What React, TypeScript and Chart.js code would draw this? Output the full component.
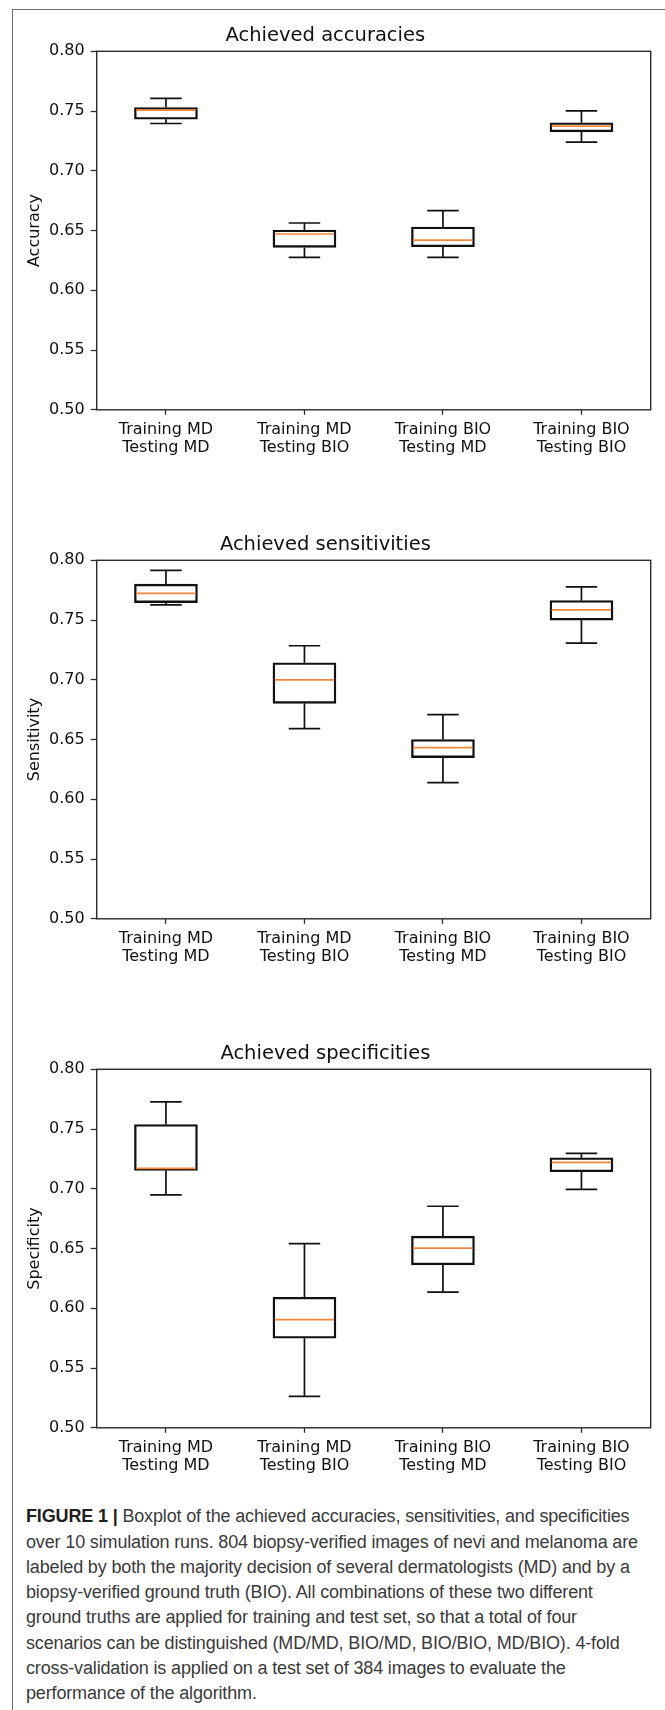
import React, { useEffect, useRef } from "react";
import { Chart, registerables } from "chart.js";

Chart.register(...registerables);

// ---------------- data ----------------
const categories = [
  ["Training MD", "Testing MD"],
  ["Training MD", "Testing BIO"],
  ["Training BIO", "Testing MD"],
  ["Training BIO", "Testing BIO"],
];
const yTickValues = [0.5, 0.55, 0.6, 0.65, 0.7, 0.75, 0.8];

const accuracyLow = [0.7396, 0.6275, 0.6275, 0.724];
const accuracyQ1 = [0.7432, 0.6359, 0.6365, 0.7326];
const accuracyMedian = [0.7508, 0.6471, 0.642, 0.7374];
const accuracyQ3 = [0.753, 0.6504, 0.653, 0.7402];
const accuracyHigh = [0.7606, 0.6563, 0.6667, 0.7502];

const sensitivityLow = [0.7627, 0.6591, 0.614, 0.7307];
const sensitivityQ1 = [0.7646, 0.6803, 0.6349, 0.75];
const sensitivityMedian = [0.7724, 0.7, 0.6433, 0.7585];
const sensitivityQ3 = [0.78, 0.7143, 0.65, 0.7663];
const sensitivityHigh = [0.7916, 0.7285, 0.6708, 0.7777];

const specificityLow = [0.6949, 0.5263, 0.6136, 0.6996];
const specificityQ1 = [0.7154, 0.575, 0.6364, 0.7143];
const specificityMedian = [0.7171, 0.5905, 0.6503, 0.7221];
const specificityQ3 = [0.7538, 0.6092, 0.6604, 0.726];
const specificityHigh = [0.7727, 0.6542, 0.6854, 0.7296];

const captionLines = [
  "Boxplot of the achieved accuracies, sensitivities, and specificities",
  "over 10 simulation runs. 804 biopsy-verified images of nevi and melanoma are",
  "labeled by both the majority decision of several dermatologists (MD) and by a",
  "biopsy-verified ground truth (BIO). All combinations of these two different",
  "ground truths are applied for training and test set, so that a total of four",
  "scenarios can be distinguished (MD/MD, BIO/MD, BIO/BIO, MD/BIO). 4-fold",
  "cross-validation is applied on a test set of 384 images to evaluate the",
  "performance of the algorithm.",
];

// ---------------- styles ----------------
const FONT = "'DejaVu Sans', sans-serif";
const TEXT = "#111111";
const SPINE = "#2b2b2b";
const BOX = "#111111";
const MEDIAN = "#f0883a";
const CANVAS_W = 665;
const CANVAS_H = 470;

type PanelProps = {
  top: number;
  title: string;
  yLabel: string;
  low: number[];
  q1: number[];
  median: number[];
  q3: number[];
  high: number[];
};

function BoxPanel({ top, title, yLabel, low, q1, median, q3, high }: PanelProps) {
  const ref = useRef<HTMLCanvasElement>(null);

  useEffect(() => {
    const canvas = ref.current;
    if (!canvas) return;

    const extras = {
      id: "boxExtras",
      afterDatasetsDraw(chart: any) {
        const { ctx } = chart;
        const x = chart.scales.x;
        const y = chart.scales.y;
        const meta = chart.getDatasetMeta(0);
        ctx.save();
        ctx.lineCap = "butt";
        for (let i = 0; i < categories.length; i++) {
          const bar = meta.data[i];
          const cx = x.getPixelForValue(i);
          const w = bar.width;
          const capHalf = w / 4;
          const yl = y.getPixelForValue(low[i]);
          const yh = y.getPixelForValue(high[i]);
          const y1 = y.getPixelForValue(q1[i]);
          const y3 = y.getPixelForValue(q3[i]);
          const ym = y.getPixelForValue(median[i]);
          ctx.strokeStyle = BOX;
          ctx.lineWidth = 1.7;
          ctx.beginPath();
          ctx.moveTo(cx, y1);
          ctx.lineTo(cx, yl);
          ctx.moveTo(cx, y3);
          ctx.lineTo(cx, yh);
          ctx.moveTo(cx - capHalf, yl);
          ctx.lineTo(cx + capHalf, yl);
          ctx.moveTo(cx - capHalf, yh);
          ctx.lineTo(cx + capHalf, yh);
          ctx.stroke();
          ctx.strokeStyle = MEDIAN;
          ctx.lineWidth = 1.7;
          ctx.beginPath();
          ctx.moveTo(cx - w / 2 + 1.7, ym);
          ctx.lineTo(cx + w / 2 - 1.7, ym);
          ctx.stroke();
        }
        ctx.restore();
      },
      afterDraw(chart: any) {
        const { ctx, chartArea } = chart;
        ctx.save();
        ctx.strokeStyle = SPINE;
        ctx.lineWidth = 1.4;
        ctx.strokeRect(
          chartArea.left,
          chartArea.top,
          chartArea.right - chartArea.left,
          chartArea.bottom - chartArea.top
        );
        ctx.restore();
      },
    };

    const chart = new Chart(canvas, {
      type: "bar",
      data: {
        labels: categories,
        datasets: [
          {
            data: q1.map((v, i) => [v, q3[i]]) as any,
            backgroundColor: "rgba(255,255,255,0)",
            borderColor: BOX,
            borderWidth: 1.7,
            borderSkipped: false,
            barThickness: 63,
          },
        ],
      },
      options: {
        animation: false,
        responsive: false,
        devicePixelRatio: 1,
        events: [],
        layout: { padding: { left: 0, right: 14.3, top: 0, bottom: 0 } },
        plugins: {
          legend: { display: false },
          tooltip: { enabled: false },
          title: {
            display: true,
            text: title,
            color: TEXT,
            font: { family: FONT, size: 19.5, weight: "normal", lineHeight: 1.2 },
            padding: { top: 24.2, bottom: 3.7 },
          },
        },
        scales: {
          x: {
            type: "category",
            offset: true,
            border: { display: false },
            grid: {
              display: true,
              offset: false,
              drawOnChartArea: false,
              drawTicks: true,
              tickLength: 5,
              tickWidth: 1.3,
              tickColor: SPINE,
              color: SPINE,
            },
            ticks: {
              autoSkip: false,
              maxRotation: 0,
              minRotation: 0,
              padding: 6.5,
              color: TEXT,
              font: { family: FONT, size: 16, lineHeight: 1.11 },
            },
            afterFit: (s: any) => {
              s.height = 60.2;
            },
          },
          y: {
            type: "linear",
            min: 0.5,
            max: 0.8,
            border: { display: false },
            grid: {
              display: true,
              drawOnChartArea: false,
              drawTicks: true,
              tickLength: 6,
              tickWidth: 1.3,
              tickColor: SPINE,
              color: SPINE,
            },
            ticks: {
              padding: 6,
              color: TEXT,
              font: { family: FONT, size: 16 },
              callback: (v: any) => Number(v).toFixed(2),
            },
            afterBuildTicks: (s: any) => {
              s.ticks = yTickValues.map((v) => ({ value: v }));
            },
            title: {
              display: true,
              text: yLabel,
              color: TEXT,
              font: { family: FONT, size: 16, lineHeight: 1.2 },
              padding: { top: 25, bottom: 0 },
            },
            afterFit: (s: any) => {
              s.width = 96.7;
            },
          },
        },
      } as any,
      plugins: [extras],
    });

    return () => chart.destroy();
  }, [title, yLabel, low, q1, median, q3, high]);

  return (
    <canvas
      ref={ref}
      width={CANVAS_W}
      height={CANVAS_H}
      style={{
        position: "absolute",
        left: 0,
        top,
        width: CANVAS_W,
        height: CANVAS_H,
        display: "block",
      }}
    />
  );
}

export default function App() {
  return (
    <div
      style={{
        position: "absolute",
        left: 0,
        top: 0,
        width: 665,
        height: 1710,
        overflow: "hidden",
        background: "#ffffff",
      }}
    >
      <div
        style={{
          position: "absolute",
          left: 12,
          top: 9,
          width: 653,
          height: 1701,
          borderLeft: "1.5px solid #6a6a6a",
          borderTop: "1.5px solid #6a6a6a",
          boxSizing: "border-box",
        }}
      />
      <BoxPanel
        top={0}
        title="Achieved accuracies"
        yLabel="Accuracy"
        low={accuracyLow}
        q1={accuracyQ1}
        median={accuracyMedian}
        q3={accuracyQ3}
        high={accuracyHigh}
      />
      <BoxPanel
        top={509}
        title="Achieved sensitivities"
        yLabel="Sensitivity"
        low={sensitivityLow}
        q1={sensitivityQ1}
        median={sensitivityMedian}
        q3={sensitivityQ3}
        high={sensitivityHigh}
      />
      <BoxPanel
        top={1018}
        title="Achieved specificities"
        yLabel="Specificity"
        low={specificityLow}
        q1={specificityQ1}
        median={specificityMedian}
        q3={specificityQ3}
        high={specificityHigh}
      />
      <div
        style={{
          position: "absolute",
          left: 26,
          top: 1504.4,
          fontFamily: "'Liberation Sans', Arial, sans-serif",
          fontSize: 18,
          lineHeight: "25.25px",
          color: "#3a3a3a",
          letterSpacing: "-0.15px",
          whiteSpace: "nowrap",
        }}
      >
        {captionLines.map((line, i) => (
          <div key={i}>
            {i === 0 ? (
              <span style={{ fontWeight: "bold", color: "#1e1e1e" }}>FIGURE 1 | </span>
            ) : null}
            {line}
          </div>
        ))}
      </div>
    </div>
  );
}
